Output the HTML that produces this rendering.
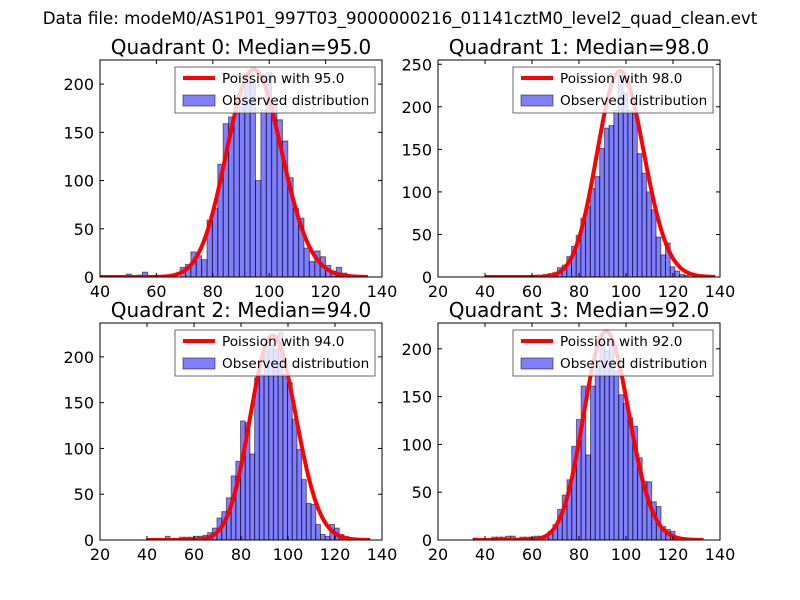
<!DOCTYPE html>
<html><head><meta charset="utf-8"><style>
html,body{margin:0;padding:0;background:#fff;}
svg{display:block;font-family:"DejaVu Sans","Liberation Sans",sans-serif;}
</style></head><body>
<svg id="fig" width="800" height="600" viewBox="0 0 800 600">
<rect width="800" height="600" fill="#fff"/>
<text x="400" y="24" text-anchor="middle" font-size="16.7" fill="#000">Data file: modeM0/AS1P01_997T03_9000000216_01141cztM0_level2_quad_clean.evt</text>
</svg>
<script>
// ---- data ----
const quadrantNames = ["Quadrant 0", "Quadrant 1", "Quadrant 2", "Quadrant 3"];
const medians = [95.0, 98.0, 94.0, 92.0];
const binStarts = [49.3, 56.8, 39.8, 34.9];
const binWidths = [1.91, 2, 2, 2];
const countsQ0 = [3,0,2,5,0,0,0,0,0,0,10,13,26,22,18,59,71,117,159,166,171,182,211,204,100,173,212,178,163,141,103,71,61,30,16,27,21,12,6,10,4,2,1];
const countsQ1 = [1,1,2,2,3,4,5,11,14,24,36,49,69,83,104,118,151,175,178,196,237,216,196,192,145,122,100,79,47,26,40,12,7,3,2];
const countsQ2 = [1,0,0,0,4,0,1,3,3,3,4,4,5,8,13,24,31,46,70,86,130,128,94,177,181,206,213,208,227,181,172,132,99,66,40,39,17,6,4,17,13,6,4,2,1];
const countsQ3 = [2,0,0,0,3,3,3,4,4,2,3,3,3,4,4,5,9,16,32,47,63,98,126,161,89,161,182,208,198,208,177,152,143,128,119,86,61,61,40,35,14,11,9];
const curvePeaks = [215, 242, 223, 218];
const curveMins = [40, 40, 40, 35];
const curveMaxs = [135, 138, 135, 133];
const xMins = [40, 20, 20, 20];
const xMaxs = [140, 140, 140, 140];
const yMaxs = [225, 255, 237, 227];
const xTicksQ0 = [40, 60, 80, 100, 120, 140];
const xTicksOther = [20, 40, 60, 80, 100, 120, 140];
const yTicksQ1 = [0, 50, 100, 150, 200, 250];
const yTicksOther = [0, 50, 100, 150, 200];

const allCounts = [countsQ0, countsQ1, countsQ2, countsQ3];
const allXTicks = [xTicksQ0, xTicksOther, xTicksOther, xTicksOther];
const allYTicks = [yTicksOther, yTicksQ1, yTicksOther, yTicksOther];

// ---- layout ----
const boxes = [[100,60,382,277],[438,60,720,277],[100,323,382,540],[438,323,720,540]];
const NS = "http://www.w3.org/2000/svg";
const fig = document.getElementById("fig");
function mk(tag, attrs, parent){
  const e = document.createElementNS(NS, tag);
  for (const k in attrs) e.setAttribute(k, attrs[k]);
  parent.appendChild(e);
  return e;
}
function lgamma(z){ return (z-0.5)*Math.log(z) - z + 0.5*Math.log(2*Math.PI) + 1/(12*z) - 1/(360*z*z*z); }
function logPois(k, mu){ return k*Math.log(mu) - mu - lgamma(k+1); }

for (let q = 0; q < 4; q++){
  const [x0,y0,x1,y1] = boxes[q];
  const xs = v => x0 + (v - xMins[q]) / (xMaxs[q] - xMins[q]) * (x1 - x0);
  const ys = v => y1 - v / yMaxs[q] * (y1 - y0);
  const g = mk("g", {}, fig);
  
  
  const cp = mk("clipPath", {id: "clip" + q}, g);
  mk("rect", {x: x0, y: y0, width: x1 - x0, height: y1 - y0}, cp);
  const t = mk("text", {x: (x0 + x1) / 2, y: y0 - 6, "text-anchor": "middle", "font-size": "20", fill: "#000"}, g);
  t.textContent = quadrantNames[q] + ": Median=" + medians[q].toFixed(1);
  
  
  // bars
  const bg = mk("g", {"clip-path": "url(#clip" + q + ")"}, g);
  const counts = allCounts[q];
  for (let i = 0; i < counts.length; i++){
    if (counts[i] <= 0) continue;
    const a = binStarts[q] + i * binWidths[q];
    const b = a + binWidths[q];
    const r = mk("rect", {x: xs(a), y: ys(counts[i]), width: xs(b) - xs(a), height: ys(0) - ys(counts[i]),
      fill: "rgba(0,0,255,0.5)", stroke: "rgba(0,0,0,0.5)", "stroke-width": "1"}, bg);
    
    
  }
  // poisson curve
  const mu = medians[q];
  const lp0 = logPois(mu, mu);
  let d = "";
  for (let x = curveMins[q]; x <= curveMaxs[q] + 1e-9; x += 0.5){
    const v = curvePeaks[q] * Math.exp(logPois(x, mu) - lp0);
    d += (d ? "L" : "M") + xs(x).toFixed(2) + "," + ys(v).toFixed(2);
  }
  const p = mk("path", {d: d, fill: "none", stroke: "#ff0000", "stroke-width": "4", "stroke-linejoin": "round"}, bg);
  
  
  // frame
  const fr = mk("rect", {x: x0, y: y0, width: x1 - x0, height: y1 - y0, fill: "none", stroke: "#000", "stroke-width": "1"}, g);
  
  
  // x ticks
  for (const v of allXTicks[q]){
    const X = xs(v);
    mk("line", {x1: X, y1: y1, x2: X, y2: y1 - 4, stroke: "#000"}, g);
    mk("line", {x1: X, y1: y0, x2: X, y2: y0 + 4, stroke: "#000"}, g);
    const tl = mk("text", {x: X, y: y1 + 20, "text-anchor": "middle", "font-size": "16", fill: "#000"}, g);
    tl.textContent = v;
    
    
  }
  // y ticks
  for (const v of allYTicks[q]){
    const Y = ys(v);
    mk("line", {x1: x0, y1: Y, x2: x0 + 4, y2: Y, stroke: "#000"}, g);
    mk("line", {x1: x1, y1: Y, x2: x1 - 4, y2: Y, stroke: "#000"}, g);
    const tl = mk("text", {x: x0 - 6, y: Y + 6, "text-anchor": "end", "font-size": "16", fill: "#000"}, g);
    tl.textContent = v;
    
    
  }
  // legend
  const lg = mk("g", {}, g);
  
  
  const lx = x1 - 207, ly = y0 + 7;
  mk("rect", {x: lx, y: ly, width: 200, height: 46, fill: "rgba(255,255,255,0.8)", stroke: "#444", "stroke-width": "0.8"}, lg);
  mk("line", {x1: lx + 8, y1: ly + 11, x2: lx + 40, y2: ly + 11, stroke: "#ff0000", "stroke-width": "4"}, lg);
  const l1 = mk("text", {x: lx + 47, y: ly + 16, "font-size": "13.6", fill: "#000"}, lg);
  l1.textContent = "Poission with " + mu.toFixed(1);
  
  
  mk("rect", {x: lx + 8, y: ly + 28, width: 32, height: 11, fill: "rgba(0,0,255,0.5)", stroke: "rgba(0,0,0,0.5)"}, lg);
  const l2 = mk("text", {x: lx + 47, y: ly + 38, "font-size": "13.6", fill: "#000"}, lg);
  l2.textContent = "Observed distribution";
  
  
}
</script>
</body></html>
